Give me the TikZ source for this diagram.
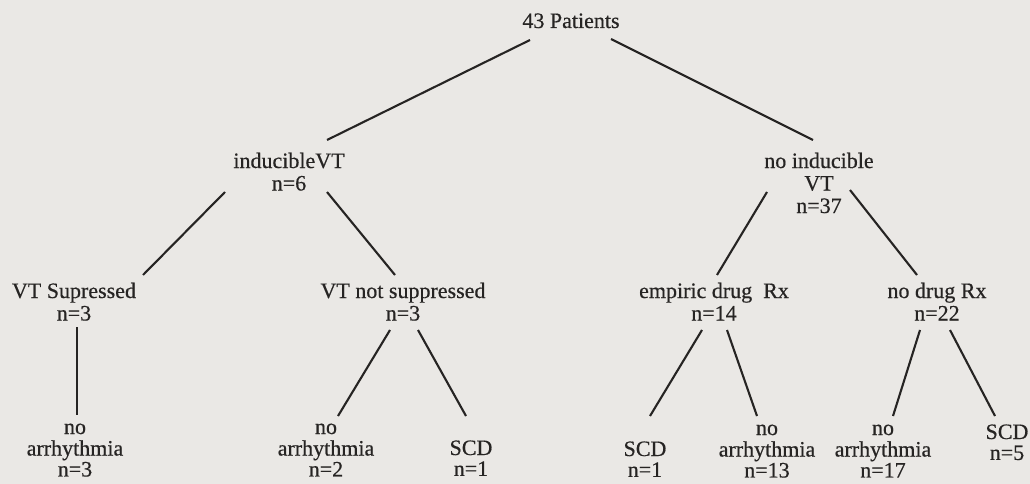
\documentclass[tikz,border=0pt]{standalone}
\usepackage{fontspec}
\setmainfont{Liberation Serif}[FakeBold=0.5]
\usetikzlibrary{calc}
\definecolor{paper}{HTML}{EAE8E5}
\definecolor{ink}{HTML}{262423}
\begin{document}
\begin{tikzpicture}[x=1pt,y=-1pt,
  lbl/.style={anchor=base,inner sep=0pt,text=ink,font=\fontsize{22}{22.5}\selectfont},
  edge/.style={draw=ink,line width=2.1pt}]
\fill[paper] (0,0) rectangle (1030,484);
\useasboundingbox (0,0) rectangle (1030,484);
\newcommand{\stk}[1]{\begin{tabular}[t]{@{}c@{}}#1\end{tabular}}
\newcommand{\stkb}[1]{{\renewcommand{\arraystretch}{0.93}\begin{tabular}[t]{@{}c@{}}#1\end{tabular}}}
% nodes
\node[lbl] (root) at (571,28) {43 Patients};
\node[lbl] (ivt)  at (289,168) {\stk{inducibleVT\\n=6}};
\node[lbl] (nivt) at (819,168) {\stk{no inducible\\VT\\n=37}};
\node[lbl] (vts)  at (74,298)  {\stk{VT Supressed\\n=3}};
\node[lbl] (vtns) at (403,298) {\stk{VT not suppressed\\n=3}};
\node[lbl] (emp)  at (714,298) {\stk{empiric drug~ Rx\\n=14}};
\node[lbl] (ndr)  at (937,298) {\stk{no drug Rx\\n=22}};
\node[lbl] (na1)  at (75,434)  {\stkb{no\\arrhythmia\\n=3}};
\node[lbl] (na2)  at (326,434) {\stkb{no\\arrhythmia\\n=2}};
\node[lbl] (scd1) at (471,455) {\stkb{SCD\\n=1}};
\node[lbl] (scd2) at (645,456) {\stkb{SCD\\n=1}};
\node[lbl] (na3)  at (767,435) {\stkb{no\\arrhythmia\\n=13}};
\node[lbl] (na4)  at (883,435) {\stkb{no\\arrhythmia\\n=17}};
\node[lbl] (scd3) at (1007,439) {\stkb{SCD\\n=5}};
% connectors
\draw[edge] ($(root.base)+(-41,12)$) -- ($(ivt.base)+(38,-28)$);
\draw[edge] ($(root.base)+(40,11)$) -- ($(nivt.base)+(-6,-28)$);
\draw[edge] ($(ivt.base)+(-64,24)$) -- ($(vts.base)+(69,-23)$);
\draw[edge] ($(ivt.base)+(38,24)$) -- ($(vtns.base)+(-8,-23)$);
\draw[edge] ($(nivt.base)+(-52,24)$) -- ($(emp.base)+(3,-23)$);
\draw[edge] ($(nivt.base)+(31,22)$) -- ($(ndr.base)+(-20,-23)$);
\draw[edge] ($(vts.base)+(3,29)$) -- ($(na1.base)+(2,-19)$);
\draw[edge] ($(vtns.base)+(-13,32)$) -- ($(na2.base)+(12,-18)$);
\draw[edge] ($(vtns.base)+(15,32)$) -- ($(scd1.base)+(-5,-39)$);
\draw[edge] ($(emp.base)+(-12,32)$) -- ($(scd2.base)+(5,-40)$);
\draw[edge] ($(emp.base)+(13,32)$) -- ($(na3.base)+(-10,-19)$);
\draw[edge] ($(ndr.base)+(-17,32)$) -- ($(na4.base)+(10,-19)$);
\draw[edge] ($(ndr.base)+(13,32)$) -- ($(scd3.base)+(-12,-23)$);
\end{tikzpicture}
\end{document}
